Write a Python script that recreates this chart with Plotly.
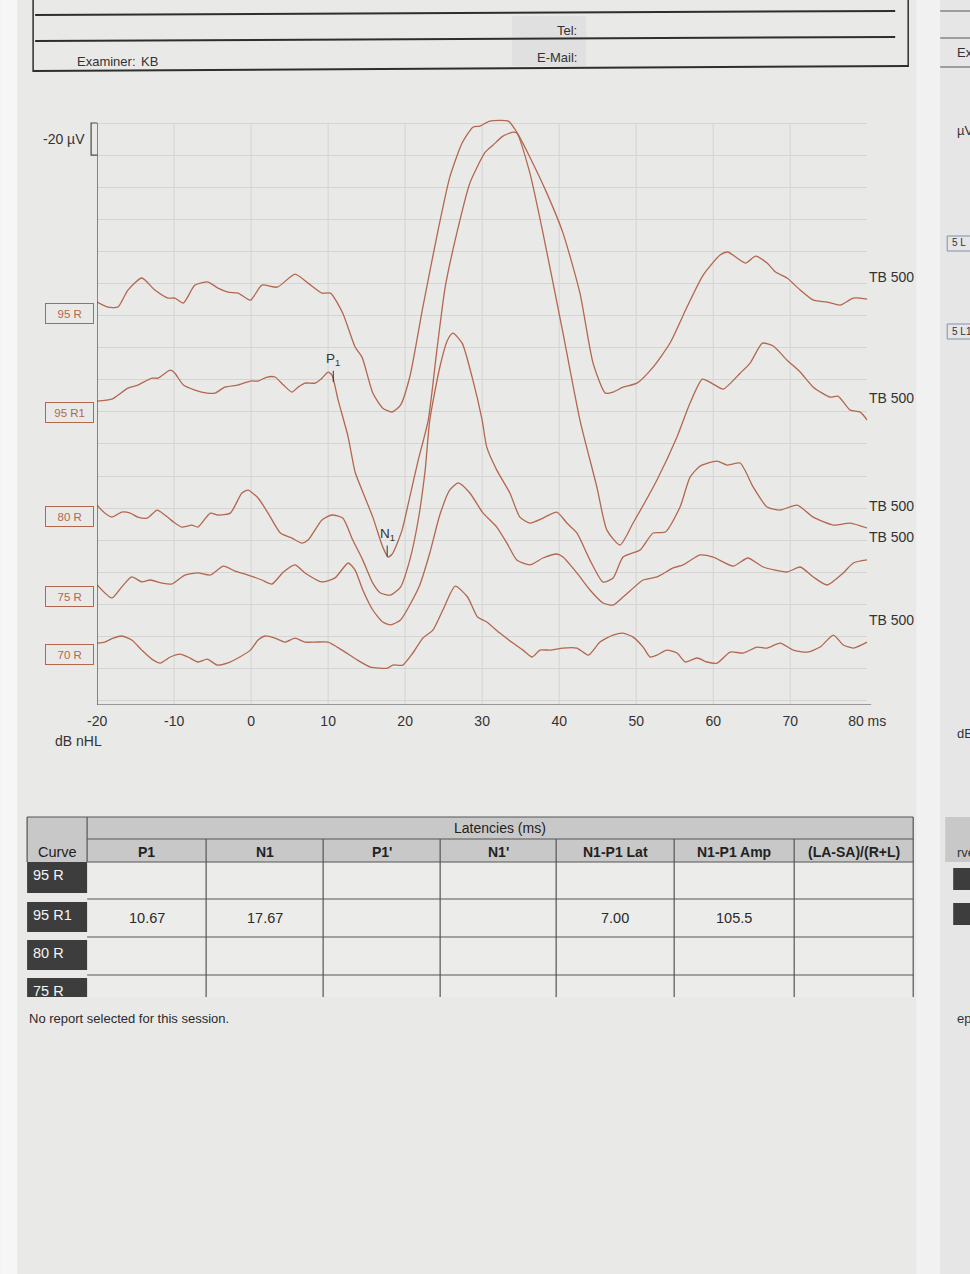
import numpy as np
import plotly.graph_objects as go

# ---------------- data ----------------
curve_names = ["95 R", "95 R1", "80 R", "75 R", "70 R"]
stimulus = ["TB 500", "TB 500", "TB 500", "TB 500", "TB 500"]

# latency (ms) and amplitude (uV, negative = up) for each curve
t_95R = [-20.0, -18.6, -17.3, -16.0, -14.2, -12.5, -10.8, -9.9, -8.8, -7.3, -5.6, -4.3, -3.0, -1.7, -0.1,
         1.4, 3.4, 5.7, 7.4, 9.2, 10.3, 11.9, 13.5, 14.4, 15.8, 17.1, 18.3, 19.4, 20.6, 22.3, 24.2, 25.8,
         27.4, 28.8, 29.7, 31.0, 33.4, 34.5, 36.2, 38.4, 40.5, 42.7, 44.4, 46.0, 47.0, 48.3, 50.1, 52.2,
         54.4, 56.6, 58.7, 60.9, 61.9, 64.2, 65.5, 67.0, 68.1, 69.6, 71.3, 73.0, 74.8, 76.5, 78.2, 80.0]
v_95R = [0, 3.1, 3.1, -7.5, -15.0, -7.5, -2.5, -2.5, 0.6, -10.6, -12.5, -8.7, -6.2, -5.6, -1.2,
         -10.6, -9.3, -17.4, -11.8, -5.6, -5.6, 6.9, 28.0, 34.3, 56.7, 66.1, 68.5, 64.2, 46.7, 3.1, -43.0, -77.9,
         -99.1, -109.0, -109.7, -112.8, -112.8, -105.9, -90.3, -67.9, -43.0, -5.6, 38.0, 56.7, 56.1, 53.0, 50.5, 40.5,
         25.5, 3.1, -16.8, -29.3, -31.2, -24.3, -28.7, -24.3, -18.7, -15.0, -7.5, -1.2, 0, 1.9, -2.5, -1.9]

t_95R1 = [-20.0, -18.1, -16.0, -14.7, -12.9, -12.1, -10.5, -9.9, -8.8, -7.3, -5.7, -4.7, -3.4, -1.7, -0.1,
          0.9, 2.1, 3.1, 4.2, 5.3, 6.1, 7.0, 8.3, 9.2, 10.0, 10.5, 11.3, 12.6, 13.5, 14.5, 15.8, 17.1,
          17.8, 18.4, 19.6, 20.6, 21.7, 23.0, 24.1, 25.2, 26.8, 28.4, 30.4, 31.4, 32.7, 34.0, 34.5, 36.2,
          37.9, 40.5, 42.7, 44.9, 46.2, 47.9, 49.6, 52.7, 55.3, 57.0, 58.6, 60.0, 61.3, 63.5, 64.8, 66.4,
          67.8, 69.6, 71.3, 73.0, 75.2, 76.2, 77.8, 79.1, 80.0]
v_95R1 = [0, -1.2, -8.1, -10.0, -14.3, -14.3, -19.3, -17.4, -10.0, -6.9, -5.0, -5.0, -8.7, -10.0, -12.5,
          -12.5, -15.0, -15.0, -10.0, -5.6, -8.7, -11.2, -11.2, -14.3, -18.1, -16.2, -0.6, 22.4, 44.2, 56.7, 72.3, 91.0,
          97.2, 94.7, 80.4, 59.8, 36.8, 11.8, -31.0, -71.0, -106.5, -135.8, -155.1, -159.5, -165.1, -167.6, -167.0, -142.1,
          -104.7, -42.4, 11.8, 53.6, 80.4, 89.7, 76.0, 49.2, 22.4, 1.2, -13.7, -10.6, -7.5, -17.4, -23.7, -36.1,
          -34.3, -25.5, -18.1, -8.7, -2.5, -3.1, 5.6, 6.9, 11.8]

t_80R = [-20.0, -19.0, -18.1, -16.8, -15.7, -14.7, -13.5, -12.2, -11.2, -9.9, -9.0, -7.7, -6.9, -5.3, -4.3,
         -2.7, -1.2, -0.4, 0.9, 2.2, 3.8, 5.3, 6.6, 7.4, 9.2, 10.5, 11.9, 13.2, 14.5, 15.8, 16.8, 18.1,
         19.4, 20.6, 21.7, 22.6, 23.2, 24.5, 25.5, 26.2, 27.4, 28.7, 30.0, 30.6, 31.9, 33.6, 34.9, 36.2,
         37.9, 39.7, 41.0, 42.3, 44.0, 45.7, 47.0, 48.3, 50.5, 52.2, 53.8, 55.7, 57.0, 58.3, 60.5, 61.8,
         63.5, 65.2, 67.0, 68.7, 70.9, 73.0, 75.6, 77.8, 80.0]
v_80R = [0, 5.0, 7.5, 4.4, 5.0, 7.5, 8.1, 3.1, 6.2, 11.2, 13.7, 12.5, 13.7, 5.0, 6.2,
         5.0, -7.5, -9.3, -4.4, 5.0, 17.4, 20.6, 23.7, 21.8, 9.3, 6.2, 8.1, 21.8, 34.3, 48.6, 54.8, 56.1,
         51.1, 34.3, 9.3, -21.8, -52.9, -85.9, -102.7, -107.1, -100.9, -79.7, -52.9, -36.1, -21.8, -7.5, 7.5, 11.2,
         8.1, 4.4, 11.2, 17.4, 34.3, 48.0, 45.5, 32.4, 28.0, 17.4, 16.8, 1.2, -17.4, -24.3, -27.4, -24.9,
         -26.2, -11.2, 1.2, 3.1, 0, 7.5, 12.5, 11.2, 14.3]

t_75R = [-20.0, -18.1, -16.8, -15.5, -14.2, -13.1, -11.6, -10.3, -8.6, -6.9, -5.3, -3.6, -2.1, -0.4, 1.4,
         2.7, 4.2, 5.7, 7.0, 9.2, 10.9, 12.6, 13.5, 14.5, 15.8, 17.1, 18.1, 19.4, 20.6, 21.9, 23.2, 24.5,
         25.8, 26.9, 28.4, 30.1, 31.9, 33.2, 34.5, 36.2, 37.9, 39.7, 40.5, 42.3, 44.0, 45.7, 47.0, 48.3,
         49.2, 50.9, 52.7, 54.8, 56.1, 58.3, 60.0, 62.6, 64.5, 66.5, 69.6, 71.3, 73.0, 74.8, 76.9, 78.2, 80.0]
v_75R = [0, 8.1, 1.2, -5.0, -1.9, -3.1, -1.2, -0.6, -6.2, -7.5, -6.2, -11.8, -8.7, -6.2, -3.1,
         -0.6, -8.1, -12.5, -7.5, -1.9, -4.4, -13.7, -9.3, 3.1, 15.6, 23.1, 24.9, 21.8, 12.5, 0, -19.9, -43.6,
         -59.2, -63.6, -57.3, -44.9, -36.1, -26.2, -15.6, -12.5, -16.8, -19.3, -17.4, -7.5, 3.1, 11.2, 12.5, 7.5,
         3.7, -3.1, -5.0, -10.6, -12.5, -18.7, -17.4, -11.8, -16.8, -11.2, -8.1, -11.2, -5.0, 0, -7.5, -13.7, -15.6]

t_70R = [-20.0, -19.0, -17.9, -16.8, -15.5, -14.2, -12.9, -11.8, -10.5, -9.2, -8.2, -6.9, -5.7, -4.4, -3.1,
         -1.7, -0.1, 0.9, 1.8, 3.1, 4.4, 5.7, 7.0, 8.3, 10.0, 11.8, 13.8, 15.5, 17.7, 18.4, 19.7, 21.0,
         22.3, 23.6, 24.9, 26.5, 28.1, 29.4, 30.6, 32.3, 34.0, 35.3, 36.5, 37.5, 38.8, 40.5, 42.3, 43.8,
         45.3, 47.0, 48.3, 49.6, 50.9, 51.8, 52.7, 54.0, 55.3, 56.4, 57.9, 59.2, 60.5, 62.2, 63.9, 65.7,
         67.0, 68.7, 70.4, 72.2, 73.9, 75.6, 76.9, 78.2, 80.0]
v_70R = [0, -0.6, -3.1, -4.4, -1.9, 4.4, 10.0, 12.5, 8.7, 6.9, 8.7, 11.8, 10.0, 13.7, 12.5,
         9.3, 4.4, -1.9, -4.4, -3.1, -0.6, -3.1, -0.6, -0.6, -0.6, 4.4, 10.6, 15.0, 15.6, 13.7, 13.7, 6.2,
         -3.1, -8.1, -20.6, -35.5, -28.7, -16.2, -13.1, -6.2, 0, 4.4, 8.7, 4.4, 4.4, 3.1, 3.1, 7.5,
         -0.6, -5.0, -6.2, -3.7, 2.5, 8.7, 7.5, 4.4, 6.2, 11.8, 9.3, 11.8, 12.5, 5.6, 6.2, 2.5,
         3.1, 0, 4.4, 5.6, 2.5, -5.0, 1.2, 3.1, -0.6]

x_ticks = [-20, -10, 0, 10, 20, 30, 40, 50, 60, 70, 80]
x_ticktext = ["-20", "-10", "0", "10", "20", "30", "40", "50", "60", "70", "80 ms"]

# table data
table_curves = ["95 R", "95 R1", "80 R", "75 R"]
table_columns = ["P1", "N1", "P1'", "N1'", "N1-P1 Lat", "N1-P1 Amp", "(LA-SA)/(R+L)"]
col_P1 = [None, 10.67, None, None]
col_N1 = [None, 17.67, None, None]
col_P1p = [None, None, None, None]
col_N1p = [None, None, None, None]
col_lat = [None, 7.00, None, None]
col_amp = [None, 105.5, None, None]
col_ratio = [None, None, None, None]

# ---------------- layout / style ----------------
W, H = 970, 1274
# horizontal placement correction measured on earlier renders (page x -> picture x = 9.9 + 0.97 * x)
HX0, HXS = 9.9, 0.97
FONT = "Liberation Sans, Arial, Helvetica, sans-serif"
BG = "#e9e9e8"
GRID = "#d4d4d4"
TRACE = "#b3674f"
INK = "#333333"
HEAD = "#c8c8c8"
DARK = "#3d3d3d"

offsets = [111.6, 173.3, 238.1, 287.9, 324.1]  # vertical stacking of curves (uV from top)
Y_BOTTOM, Y_TOP = 362.7, -2.5
PL, PR, PT, PB = 97, 867, 119, 705


def px(x):
    return ((x - HX0) / HXS) / W


def py(y):
    return 1 - y / H


def wpx(w):
    return w / HXS


fig = go.Figure()

times = [t_95R, t_95R1, t_80R, t_75R, t_70R]
amps = [v_95R, v_95R1, v_80R, v_75R, v_70R]
for name, t, v, off in zip(curve_names, times, amps, offsets):
    fig.add_trace(go.Scatter(
        x=t, y=[a + off for a in v], mode="lines", name=name,
        line=dict(color=TRACE, width=1.3, shape="spline", smoothing=0.6),
        hoverinfo="skip", showlegend=False))

shapes = []
annotations = []


def note(x, y, text, size, color=INK, xa="center", ya="middle", xref="paper", yref="paper", **kw):
    annotations.append(dict(x=x, y=y, xref=xref, yref=yref, xanchor=xa, yanchor=ya, text=text,
                            showarrow=False, font=dict(family=FONT, size=size, color=color), **kw))


# vertical grid
for g in range(-10, 80, 10):
    shapes.append(dict(type="line", xref="x", yref="y", x0=g, x1=g, y0=0, y1=Y_BOTTOM,
                       line=dict(color=GRID, width=1), layer="below"))
# axes
shapes.append(dict(type="line", xref="x", yref="y", x0=-20, x1=-20, y0=0, y1=Y_BOTTOM,
                   line=dict(color="#4a4a4a", width=1.2)))
shapes.append(dict(type="line", xref="paper", yref="y", x0=px(PL), x1=px(871), y0=Y_BOTTOM, y1=Y_BOTTOM,
                   line=dict(color="#4a4a4a", width=1.2)))
# scale bar
shapes.append(dict(type="path", xref="paper", yref="y",
                   path=f"M {px(97)},0 L {px(91)},0 L {px(91)},20 L {px(97)},20",
                   line=dict(color="#4a4a4a", width=1.2)))

note(px(87), 10, "-20 µV", 14, xa="right", yref="y")
note(px(78), py(741), "dB nHL", 14)

# curve label boxes and stimulus labels
for name, t, v, off, stim in zip(curve_names, times, amps, offsets, stimulus):
    note(px(94), off, name, 11.5, color=TRACE, xa="right", ya="top", yref="y", yshift=-1,
         bordercolor=TRACE, borderwidth=1, borderpad=2, width=wpx(42), height=15)
    note(t[-1], v[-1] + off - 14, stim, 14, xa="left", xref="x", yref="y")

# P1 / N1 markers on 95 R1
b_t = np.array(t_95R1)
b_y = np.array(v_95R1) + offsets[1]
for lab, lat in [("P", col_P1[1]), ("N", col_N1[1])]:
    yv = float(np.interp(lat, b_t, b_y))
    shapes.append(dict(type="line", xref="x", yref="y", x0=lat, x1=lat, y0=yv - 6, y1=yv + 1,
                       line=dict(color=INK, width=1)))
    note(lat, yv - 6.5, f"{lab}<sub>1</sub>", 13.5, ya="bottom", xref="x", yref="y")

# ---------------- header block ----------------
for (x0, y0, x1, y1, w) in [(35, 15, 895, 11, 2), (35, 41, 895, 37, 2), (33, 71, 908, 66, 2),
                            (33, 0, 33, 72, 1.5), (908, 0, 908, 67, 1.5)]:
    shapes.append(dict(type="line", xref="paper", yref="paper", x0=px(x0), y0=py(y0), x1=px(x1), y1=py(y1),
                       line=dict(color="#2e2e2e", width=w)))
shapes.append(dict(type="rect", xref="paper", yref="paper", x0=px(512), x1=px(586), y0=py(66), y1=py(16),
                   fillcolor="#e0e0e0", line=dict(width=0), layer="below"))
note(px(75), py(61), "Examiner:", 13, xa="left")
note(px(139), py(61), "KB", 13, xa="left")
note(px(579), py(31), "Tel:", 13, xa="right")
note(px(579), py(58), "E-Mail:", 13, xa="right")

# ---------------- table ----------------
col_edges = [87, 206, 323, 440, 556, 674, 794, 913]
row_lines = [862, 899, 937, 975]
row_label_boxes = [(862, 893), (902, 932), (940, 970), (978, 997)]
T_TOP, T_MID, T_HEAD, T_END = 817, 839, 862, 997
LINE = dict(color="#555555", width=1.2)


def rect(x0, y0, x1, y1, fill):
    shapes.append(dict(type="rect", xref="paper", yref="paper", x0=px(x0), x1=px(x1), y0=py(y1), y1=py(y0),
                       fillcolor=fill, line=dict(width=0), layer="below"))


def hline(x0, x1, y):
    shapes.append(dict(type="line", xref="paper", yref="paper", x0=px(x0), x1=px(x1), y0=py(y), y1=py(y), line=LINE))


def vline(x, y0, y1):
    shapes.append(dict(type="line", xref="paper", yref="paper", x0=px(x), x1=px(x), y0=py(y0), y1=py(y1), line=LINE))


rect(27, T_TOP, 87, T_HEAD, HEAD)
rect(87, T_TOP, 913, T_HEAD, HEAD)
rect(87, T_HEAD, 913, T_END, "#ececeb")
hline(27, 913, T_TOP)
hline(87, 913, T_MID)
for y in row_lines:
    hline(87, 913, y)
vline(27, T_TOP, T_HEAD)
vline(87, T_TOP, T_HEAD)
for x in col_edges[1:-1]:
    vline(x, T_MID, T_END)
vline(913, T_TOP, T_END)

note(px(500), py(828), "Latencies (ms)", 14, color="#222222")
note(px(57), py(852), "Curve", 14.5, color="#222222")
for i, c in enumerate(table_columns):
    cx = (col_edges[i] + col_edges[i + 1]) / 2
    note(px(cx), py(852), f"<b>{c}</b>", 14, color="#222222")

table_data = [col_P1, col_N1, col_P1p, col_N1p, col_lat, col_amp, col_ratio]
fmts = ["{:.2f}", "{:.2f}", "{:.2f}", "{:.2f}", "{:.2f}", "{:.1f}", "{:.2f}"]
for r, name in enumerate(table_curves):
    y0, y1 = row_label_boxes[r]
    rect(27, y0, 87, y1, DARK)
    note(px(31), py(y0 + 13), name, 14.5, color="#f4f4f4", xa="left")
    for ci, col in enumerate(table_data):
        val = col[r]
        if val is None:
            continue
        cx = (col_edges[ci] + col_edges[ci + 1]) / 2
        cy = (row_lines[r] + (row_lines[r + 1] if r + 1 < len(row_lines) else T_END)) / 2
        note(px(cx), py(cy), fmts[ci].format(val), 14.5, color="#2a2a2a")

note(px(27), py(1018), "No report selected for this session.", 13, color="#2a2a2a", xa="left")

# ---------------- page edges / neighbouring page ----------------
rect(0, 0, 17, H, "#f6f6f6")
rect(916, 0, 940, H, "#f1f1f1")
rect(940, 0, 990, H, "#e6e6e6")
for y in [11, 38, 67]:
    hline(940, 990, y)
rect(945, T_TOP, 990, 862, HEAD)
rect(953, 868, 990, 890, DARK)
rect(953, 903, 990, 925, DARK)
for y0, y1 in [(236, 251), (324, 339)]:
    shapes.append(dict(type="rect", xref="paper", yref="paper", x0=px(947), x1=px(990), y0=py(y1), y1=py(y0),
                       line=dict(color="#7f8fb0", width=1)))
for txt, x, y, s in [("Ex", 955, 52, 13), ("µV", 955, 130, 13), ("5 L", 950, 243, 10), ("5 L1", 950, 331, 10),
                     ("dB", 955, 733, 13), ("rve", 955, 852, 13), ("epo", 955, 1018, 13)]:
    note(px(x), py(y), txt, s, xa="left")

fig.update_layout(
    width=W, height=H, autosize=False, margin=dict(l=0, r=0, t=0, b=0, pad=0),
    paper_bgcolor=BG, plot_bgcolor=BG,
    showlegend=False,
    font=dict(family=FONT, color=INK),
    xaxis=dict(domain=[px(PL), px(PR)], range=[-20, 80], showgrid=False, zeroline=False, showline=False,
               tickmode="array", tickvals=x_ticks, ticktext=x_ticktext, ticks="",
               tickfont=dict(family=FONT, size=14, color=INK), ticklabelstandoff=6, fixedrange=True),
    yaxis=dict(domain=[py(PB), py(PT)], range=[Y_BOTTOM, Y_TOP], showgrid=True, gridcolor=GRID, gridwidth=1,
               tick0=0, dtick=20, zeroline=False, showline=False, showticklabels=False, ticks="", fixedrange=True),
    shapes=shapes,
    annotations=annotations,
)

fig.write_html("out.html", config={"displayModeBar": False, "responsive": False},
               post_script="document.body.style.margin='0px';")
